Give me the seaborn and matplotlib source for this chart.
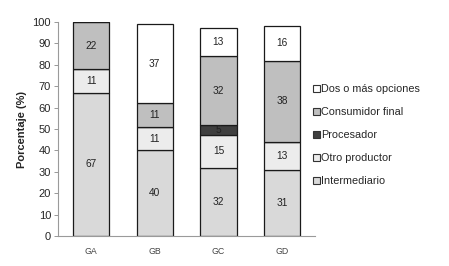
import pandas as pd
import seaborn as sns
import matplotlib.pyplot as plt
from matplotlib.patches import Patch

# Data (percent per group)
grupos = ["GA", "GB", "GC", "GD"]
intermediario = [67, 40, 32, 31]
otro_productor = [11, 11, 15, 13]
procesador = [0, 0, 5, 0]
consumidor_final = [22, 11, 32, 38]
dos_o_mas = [0, 37, 13, 16]

series = [
    ("Intermediario", intermediario, "#d9d9d9"),
    ("Otro productor", otro_productor, "#ececec"),
    ("Procesador", procesador, "#3f3f3f"),
    ("Consumidor final", consumidor_final, "#bfbfbf"),
    ("Dos o más opciones", dos_o_mas, "#ffffff"),
]

sns.set_style("white")
plt.rcParams["font.family"] = ["Liberation Sans", "DejaVu Sans"]

fig = plt.figure(figsize=(4.49, 2.66), dpi=100)
ax = fig.add_axes([0.129, 0.113, 0.573, 0.804])

bottom = [0] * len(grupos)
for name, vals, col in series:
    df = pd.DataFrame({"grupo": grupos, "valor": vals})
    sns.barplot(data=df, x="grupo", y="valor", bottom=bottom, color=col,
                edgecolor="#1a1a1a", linewidth=0.9, width=0.57,
                saturation=1, ax=ax, errorbar=None)
    for i, v in enumerate(vals):
        if v > 0:
            ax.text(i, bottom[i] + v / 2, str(v), ha="center", va="center",
                    fontsize=7.3, color="#222222")
    bottom = [b + v for b, v in zip(bottom, vals)]

ax.set_ylim(0, 100)
ax.set_xlim(-0.52, 3.52)
ax.set_yticks(range(0, 101, 10))
ax.tick_params(axis="y", labelsize=8, length=3, width=0.6, color="#888888",
               left=True, pad=2)
ax.tick_params(axis="x", labelsize=6.3, colors="#444444", length=0, pad=8)
ax.set_xlabel("")
ax.set_ylabel("Porcentaje (%)", fontsize=8, fontweight="bold", labelpad=4)
sns.despine(ax=ax)
for s in ["left", "bottom"]:
    ax.spines[s].set_color("#9a9a9a")
    ax.spines[s].set_linewidth(0.8)

handles = [Patch(facecolor=col, edgecolor="#333333", linewidth=0.8, label=name)
           for name, vals, col in reversed(series)]
fig.legend(handles=handles, loc="upper left", bbox_to_anchor=(0.676, 0.72),
           frameon=False, fontsize=7.8, handlelength=0.6, handleheight=0.6,
           handletextpad=0.15, labelspacing=1.2)

fig.savefig("out.png", dpi=100)
